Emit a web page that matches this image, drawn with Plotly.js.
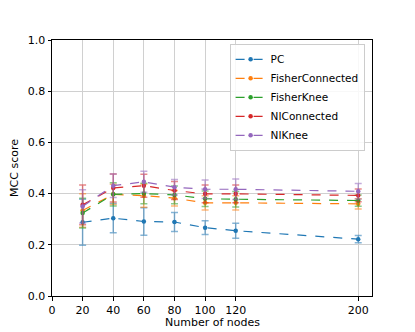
<!DOCTYPE html>
<html>
<head>
<meta charset="utf-8">
<script src="https://cdn.plot.ly/plotly-3.0.1.min.js"></script>
<style>html,body{margin:0;padding:0;background:#fff;}#chart{width:415px;height:332px;}</style>
</head>
<body>
<div id="chart"></div>
<script>
const nodes = [20, 40, 60, 80, 100, 120, 200];
const seriesNames = ["PC", "FisherConnected", "FisherKnee", "NIConnected", "NIKnee"];
const pcMean = [0.288, 0.304, 0.291, 0.289, 0.267, 0.255, 0.222];
const pcErr = [0.090, 0.057, 0.054, 0.037, 0.027, 0.029, 0.014];
const fcMean = [0.334, 0.397, 0.392, 0.382, 0.364, 0.364, 0.360];
const fcErr = [0.065, 0.040, 0.045, 0.030, 0.028, 0.028, 0.020];
const fkMean = [0.324, 0.397, 0.400, 0.395, 0.380, 0.378, 0.373];
const fkErr = [0.058, 0.045, 0.040, 0.035, 0.030, 0.030, 0.022];
const ncMean = [0.356, 0.422, 0.431, 0.412, 0.399, 0.399, 0.393];
const ncErr = [0.078, 0.055, 0.045, 0.035, 0.035, 0.035, 0.025];
const nkMean = [0.350, 0.431, 0.446, 0.425, 0.417, 0.417, 0.409];
const nkErr = [0.065, 0.046, 0.041, 0.030, 0.036, 0.040, 0.030];
const xTicks = [0, 20, 40, 60, 80, 100, 120, 200];

const colors = ["#1f77b4", "#ff7f0e", "#2ca02c", "#d62728", "#9467bd"];
const errColors = ["rgba(31,119,180,0.55)", "rgba(255,127,14,0.55)", "rgba(44,160,44,0.55)", "rgba(214,39,40,0.55)", "rgba(148,103,189,0.55)"];
const means = [pcMean, fcMean, fkMean, ncMean, nkMean];
const errs = [pcErr, fcErr, fkErr, ncErr, nkErr];

const traces = seriesNames.map((name, i) => ({
  x: nodes,
  y: means[i],
  name: name,
  type: "scatter",
  mode: "lines+markers",
  line: {color: colors[i], width: 1.2, dash: "dash"},
  marker: {color: colors[i], size: 4.5},
  error_y: {type: "data", array: errs[i], visible: true, color: errColors[i], thickness: 1.5, width: 3.5}
}));

const font = {family: "DejaVu Sans, sans-serif", size: 11, color: "#000"};
const layout = {
  width: 415, height: 332,
  margin: {l: 52, r: 43, t: 40, b: 36},
  paper_bgcolor: "#fff", plot_bgcolor: "#fff",
  font: font,
  showlegend: true,
  xaxis: {
    range: [0, 209], tickvals: xTicks, ticktext: xTicks.map(String),
    showgrid: true, gridcolor: "#d0d0d0", gridwidth: 1,
    zeroline: false, showline: true, linecolor: "#000", linewidth: 1, mirror: true,
    ticks: "outside", ticklen: 3.5, tickcolor: "#000",
    tickfont: font
  },
  yaxis: {
    range: [0, 1], tickvals: [0, 0.2, 0.4, 0.6, 0.8, 1.0], ticktext: ["0.0", "0.2", "0.4", "0.6", "0.8", "1.0"],
    showgrid: true, gridcolor: "#d0d0d0", gridwidth: 1,
    zeroline: false, showline: true, linecolor: "#000", linewidth: 1, mirror: true,
    ticks: "outside", ticklen: 3.5, tickcolor: "#000",
    tickfont: font,
    title: {text: "MCC score", font: font, standoff: 6}
  },
  annotations: [{
    text: "Number of nodes", xref: "paper", yref: "paper", x: 0.5, y: -0.076,
    xanchor: "center", yanchor: "top", showarrow: false, font: font, borderpad: 0
  }],
  legend: {
    x: 0.555, y: 0.985, xanchor: "left", yanchor: "top",
    bgcolor: "rgba(255,255,255,0.85)", bordercolor: "#cccccc", borderwidth: 1,
    font: {family: "DejaVu Sans, sans-serif", size: 10.5, color: "#000"}, tracegroupgap: 0, itemwidth: 30
  }
};

Plotly.newPlot("chart", traces, layout, {displayModeBar: false, staticPlot: true});
</script>
</body>
</html>
